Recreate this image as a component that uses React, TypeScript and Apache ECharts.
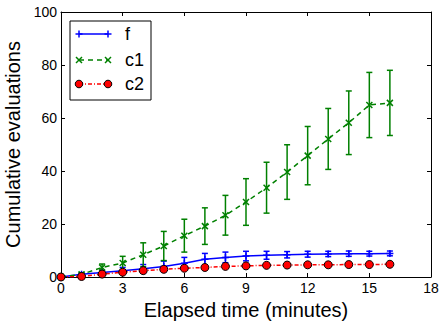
import React, { useEffect, useRef } from "react";
import * as echarts from "echarts";

const xValues = [0, 1, 2, 3, 4, 5, 6, 7, 8, 9, 10, 11, 12, 13, 14, 15, 16];
const fMean = [0, 1.0, 1.7, 2.4, 3.1, 4.0, 5.2, 6.7, 7.4, 7.9, 8.2, 8.4, 8.6, 8.7, 8.8, 8.8, 8.9];
const fErr = [0, 0.5, 0.8, 1.2, 1.6, 2.0, 2.2, 2.2, 2.0, 1.8, 1.5, 1.2, 1.1, 1.0, 1.0, 0.9, 0.9];
const c1Mean = [0, 1.0, 3.6, 5.3, 8.4, 11.7, 15.6, 19.2, 23.3, 28.3, 33.7, 39.6, 45.8, 52.1, 58.2, 64.9, 65.7];
const c1Err = [0, 0.5, 1.3, 2.5, 4.5, 5.5, 6.2, 6.9, 7.5, 8.8, 9.6, 10.3, 11.0, 11.5, 12.0, 12.3, 12.3];
const c2Mean = [0, 0.2, 1.1, 1.8, 2.4, 2.9, 3.3, 3.6, 4.0, 4.2, 4.4, 4.5, 4.6, 4.6, 4.7, 4.7, 4.8];
const c2Err = [0, 0.2, 0.4, 0.5, 0.6, 0.7, 0.7, 0.7, 0.7, 0.6, 0.6, 0.5, 0.5, 0.5, 0.5, 0.5, 0.5];
const seriesNames = ["f", "c1", "c2"];

const BLUE = "#0000ff";
const GREEN = "#008000";
const RED = "#ff0000";
const FONT = "Liberation Sans, Arial, sans-serif";

const PLUS = "path://M0,5L10,5M5,0L5,10";
const CROSS = "path://M0,0L10,10M10,0L0,10";

function errorSeries(mean: number[], err: number[], color: string, z: number) {
  return {
    type: "custom",
    z,
    data: xValues.map((x, i) => [x, mean[i], err[i]]),
    renderItem: (params: any, api: any) => {
      const x = api.value(0);
      const m = api.value(1);
      const e = api.value(2);
      const top = api.coord([x, m + e]);
      const bot = api.coord([x, m - e]);
      const cw = 3;
      const st = { stroke: color, lineWidth: 1.5 };
      return {
        type: "group",
        children: [
          { type: "line", shape: { x1: top[0], y1: top[1], x2: bot[0], y2: bot[1] }, style: st },
          { type: "line", shape: { x1: top[0] - cw, y1: top[1], x2: top[0] + cw, y2: top[1] }, style: st },
          { type: "line", shape: { x1: bot[0] - cw, y1: bot[1], x2: bot[0] + cw, y2: bot[1] }, style: st },
        ],
      };
    },
  };
}

function legendGraphic() {
  const x0 = 70, y0 = 21, w = 81, h = 79;
  const rows = [34, 60, 84];
  const lx1 = 79, lx2 = 108, tx = 125;
  const children: any[] = [
    { type: "rect", shape: { x: x0, y: y0, width: w, height: h }, style: { fill: "#fff", stroke: "#000", lineWidth: 1 } },
  ];
  children.push({ type: "line", shape: { x1: lx1, y1: rows[0], x2: lx2, y2: rows[0] }, style: { stroke: BLUE, lineWidth: 1.5 } });
  [lx1, lx2].forEach((cx) => {
    children.push({ type: "line", shape: { x1: cx - 3.5, y1: rows[0], x2: cx + 3.5, y2: rows[0] }, style: { stroke: BLUE, lineWidth: 1.5 } });
    children.push({ type: "line", shape: { x1: cx, y1: rows[0] - 3.5, x2: cx, y2: rows[0] + 3.5 }, style: { stroke: BLUE, lineWidth: 1.5 } });
  });
  children.push({ type: "line", shape: { x1: lx1, y1: rows[1], x2: lx2, y2: rows[1] }, style: { stroke: GREEN, lineWidth: 1.5, lineDash: [5, 4] } });
  [lx1, lx2].forEach((cx) => {
    children.push({ type: "line", shape: { x1: cx - 3, y1: rows[1] - 3, x2: cx + 3, y2: rows[1] + 3 }, style: { stroke: GREEN, lineWidth: 1.5 } });
    children.push({ type: "line", shape: { x1: cx - 3, y1: rows[1] + 3, x2: cx + 3, y2: rows[1] - 3 }, style: { stroke: GREEN, lineWidth: 1.5 } });
  });
  children.push({ type: "line", shape: { x1: lx1, y1: rows[2], x2: lx2, y2: rows[2] }, style: { stroke: RED, lineWidth: 1.5, lineDash: [4, 2, 1, 2] } });
  [lx1, lx2].forEach((cx) => {
    children.push({ type: "circle", shape: { cx, cy: rows[2], r: 3.8 }, style: { fill: RED, stroke: "#000", lineWidth: 1 } });
  });
  seriesNames.forEach((n, i) => {
    children.push({
      type: "text",
      style: { text: n, x: tx, y: rows[i], fill: "#000", font: `18px ${FONT}`, verticalAlign: "middle", textAlign: "left" },
    });
  });
  return [{ type: "group", children, z: 100 }];
}

export default function App() {
  const ref = useRef<HTMLDivElement>(null);
  useEffect(() => {
    if (!ref.current) return;
    const chart = echarts.init(ref.current, undefined, { renderer: "svg" });
    const tickCommon = {
      axisTick: { show: true, inside: true, length: 4, lineStyle: { color: "#000", width: 1 } },
      axisLine: { show: true, onZero: false, lineStyle: { color: "#000", width: 1 } },
      splitLine: { show: false },
    };
    chart.setOption({
      animation: false,
      backgroundColor: "#fff",
      grid: { left: 61, top: 12, right: 10, bottom: 47, outerBoundsMode: "none", containLabel: false },
      textStyle: { fontFamily: FONT },
      xAxis: [
        {
          type: "value", min: 0, max: 18, interval: 3, position: "bottom",
          ...tickCommon,
          axisLabel: { color: "#000", fontSize: 14, fontFamily: FONT, margin: 4 },
          name: "Elapsed time (minutes)", nameLocation: "middle", nameGap: 20,
          nameTextStyle: { color: "#000", fontSize: 20, fontFamily: FONT },
        },
        { type: "value", min: 0, max: 18, interval: 3, position: "top", ...tickCommon, axisLabel: { show: false } },
      ],
      yAxis: [
        {
          type: "value", min: 0, max: 100, interval: 20, position: "left",
          ...tickCommon,
          axisLabel: { color: "#000", fontSize: 14, fontFamily: FONT, margin: 4 },
          name: "Cumulative evaluations", nameLocation: "middle", nameGap: 29,
          nameTextStyle: { color: "#000", fontSize: 20, fontFamily: FONT },
        },
        { type: "value", min: 0, max: 100, interval: 20, position: "right", ...tickCommon, axisLabel: { show: false } },
      ],
      graphic: legendGraphic(),
      series: [
        errorSeries(fMean, fErr, BLUE, 2),
        {
          name: "f", type: "line", z: 3,
          data: xValues.map((x, i) => [x, fMean[i]]),
          lineStyle: { color: BLUE, width: 1.5 },
          symbol: PLUS, symbolSize: 7, showSymbol: true,
          itemStyle: { color: BLUE, borderColor: BLUE, borderWidth: 1.5 },
        },
        errorSeries(c1Mean, c1Err, GREEN, 4),
        {
          name: "c1", type: "line", z: 5,
          data: xValues.map((x, i) => [x, c1Mean[i]]),
          lineStyle: { color: GREEN, width: 1.5, type: [5, 4] },
          symbol: CROSS, symbolSize: 6, showSymbol: true,
          itemStyle: { color: GREEN, borderColor: GREEN, borderWidth: 1.5 },
        },
        errorSeries(c2Mean, c2Err, RED, 6),
        {
          name: "c2", type: "line", z: 7,
          data: xValues.map((x, i) => [x, c2Mean[i]]),
          lineStyle: { color: RED, width: 1.5, type: [4, 2, 1, 2] },
          symbol: "circle", symbolSize: 8, showSymbol: true,
          itemStyle: { color: RED, borderColor: "#000", borderWidth: 1 },
        },
      ],
    });
    return () => chart.dispose();
  }, []);
  return <div ref={ref} style={{ width: 441, height: 324, position: "absolute", left: 0, top: 0 }} />;
}
